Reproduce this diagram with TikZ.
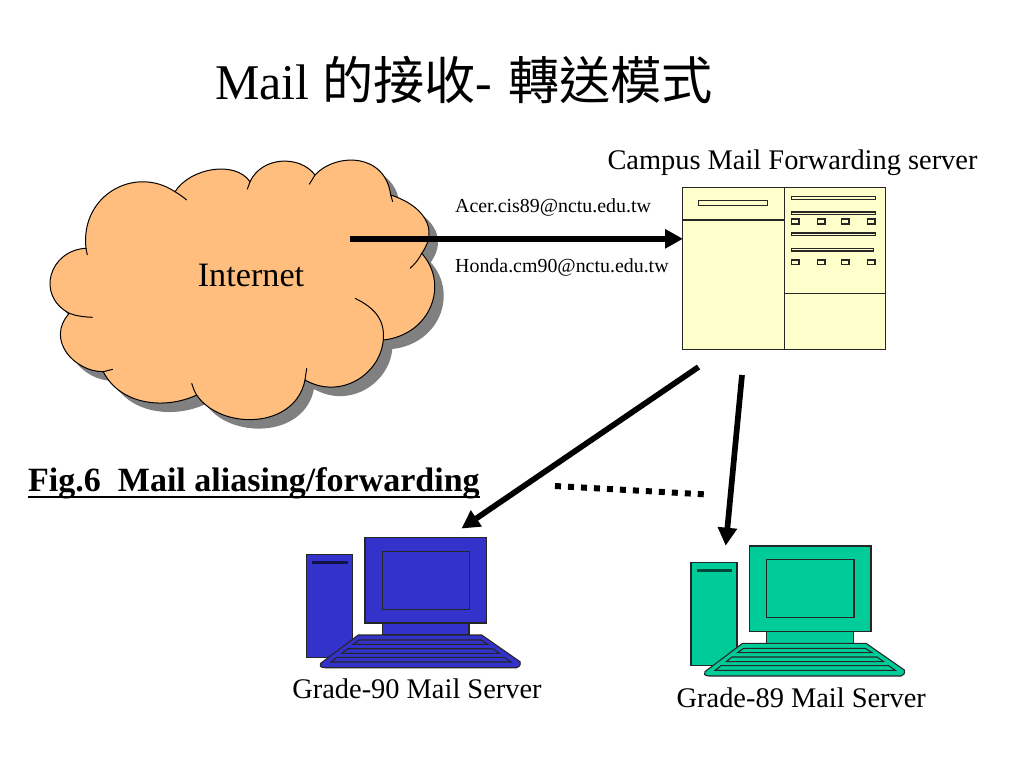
\documentclass[tikz,border=0pt]{standalone}
\usepackage{fontspec}
\setmainfont{Liberation Serif}
\newfontfamily\cjkfont{Noto Sans CJK TC}
\usetikzlibrary{arrows.meta}
\definecolor{cloudfill}{RGB}{255,190,125}
\definecolor{cloudshadow}{RGB}{128,128,128}
\definecolor{serverfill}{RGB}{255,255,204}
\definecolor{bluepc}{RGB}{51,51,204}
\definecolor{greenpc}{RGB}{0,204,153}
\newcommand{\cloudoutline}{(86,248.3) .. controls (80,195) and (135,165) .. (175,191.7)
	.. controls (190,168) and (235,160) .. (250,181.7)
	.. controls (262,156) and (300,155) .. (315,175)
	.. controls (335,153) and (385,152) .. (390.7,195)
	.. controls (422,205) and (440,228) .. (421.7,253.3)
	.. controls (450,285) and (430,335) .. (383.3,340)
	.. controls (380,375) and (340,400) .. (305,380)
	.. controls (295,430) and (220,430) .. (196.7,395)
	.. controls (165,410) and (120,405) .. (103.3,371.7)
	.. controls (75,372) and (45,340) .. (69.3,313.3)
	.. controls (35,295) and (50,250) .. (86,248.3) -- cycle}
\newcommand{\titlecjk}[1]{{\cjkfont\fontsize{51.2}{60}\selectfont #1}}
\tikzset{
	thinline/.style = {draw = black, line width = 1pt},
	serverline/.style = {draw = black!85, line width = 1.3pt},
	pcline/.style = {draw = black!85, line width = 1.1pt},
	thickarrow/.style = {line width = 5.7pt, -{Triangle[length = 18pt, width = 18.5pt]}},
	label20/.style = {font = \fontsize{28.4}{32}\selectfont},
	label24/.style = {font = \fontsize{34.2}{38}\selectfont},
	label14/.style = {font = \fontsize{19.9}{23}\selectfont, anchor = base west, inner sep = 0pt}
}
\begin{document}
\begin{tikzpicture}[x = 1pt, y = -1pt]
\useasboundingbox (0,0) rectangle (1024,768);
\node[anchor = base west, inner sep = 0pt, font = \fontsize{50}{60}\selectfont] (title) at (215,99) {Mail \titlecjk{的接收}-\hspace{16pt}\titlecjk{轉送模式}};
\fill[cloudshadow, shift = {(9,9)}] \cloudoutline;
\draw[thinline, fill = cloudfill] \cloudoutline;
\draw[thinline] (86,248.3) -- (87.3,255);
\draw[thinline] (175,191.7) .. controls (179,194) and (183,197) .. (186.7,200);
\draw[thinline] (250,181.7) -- (247.3,189.3);
\draw[thinline] (315,175) -- (309.3,184.3);
\draw[thinline] (390.7,195) -- (392.7,201.7);
\draw[thinline] (421.7,253.3) .. controls (419,259) and (415,264) .. (410,268.3);
\draw[thinline] (383.3,340) .. controls (385,320) and (375,308) .. (355,298.3);
\draw[thinline] (305,380) -- (306.7,368.3);
\draw[thinline] (196.7,395) .. controls (194,391) and (193,387) .. (191.7,383.3);
\draw[thinline] (103.3,371.7) -- (112.7,369.3);
\draw[thinline] (69.3,313.3) .. controls (76,316) and (84,317) .. (92.7,317.3);
\node[label24] (internet) at (251,275) {Internet};
\node[label20] (campus) at (792.5,163) {Campus Mail Forwarding server};
\node[label14] (acer) at (455,212) {Acer.cis89@nctu.edu.tw};
\node[label14] (honda) at (455,272) {Honda.cm90@nctu.edu.tw};
\draw[serverline, fill = serverfill] (682.3,187.7) rectangle (885.3,349.3);
\draw[serverline] (784.7,187.7) -- (784.7,349.3);
\draw[serverline] (682.3,220) -- (784.7,220);
\draw[serverline] (784.7,293.3) -- (885.3,293.3);
\draw[serverline] (698.3,200.3) rectangle (767.7,205.3);
\foreach \x / \y in {875.3/196.7,875.3/212,875.3/233,873.7/248.3}
{
	\draw[serverline] (791.7,\y) rectangle (\x,\y+2.6);
}
\foreach \x in {791.7,817.7,841.7,867.7}
{
	\draw[serverline] (\x,219) rectangle (\x+7.3,224);
	\draw[serverline] (\x,260) rectangle (\x+7.3,264.7);
}
\foreach \dx / \dy / \pccol / \grade in {0/0/bluepc/90,384.3/8.3/greenpc/89}
{
	\begin{scope}[shift = {(\dx,\dy)}]
	\draw[pcline, fill = \pccol] (306.7,554.3) rectangle (352.7,657.3);
	\fill[\pccol!35!black] (312.3,561) rectangle (347.7,563.7);
	\draw[pcline, fill = \pccol] (382.3,623) rectangle (469,635);
	\draw[pcline, fill = \pccol] (365,537.7) rectangle (486.7,623);
	\draw[pcline] (382.3,551.3) rectangle (469.7,609.3);
	\draw[pcline, fill = \pccol] (358.3,635) -- (481.7,635) -- (520,661.7) .. controls (521,665) and (519,667.7) .. (516.7,667.7) -- (325,667.7) .. controls (320,667.7) and (319,665) .. (320.7,663.3) -- cycle;
	\draw[pcline] (359.3,640) -- (481,640) -- (487.7,644.3) -- (353.3,644.3) -- cycle;
	\draw[pcline] (347.7,648.7) -- (492.7,648.7) -- (499.3,653.3) -- (342,653.3) -- cycle;
	\draw[pcline] (336.7,657.3) -- (504.3,657.3) -- (511,662) -- (331,662) -- cycle;
	\node[label20] (grade\grade) at (417,689) {Grade-\grade{} Mail Server};
	\end{scope}
}
\node[anchor = base west, inner sep = 0pt, font = \fontsize{34}{38}\selectfont\bfseries] (figcaption) at (28,491) {Fig.6\ \ Mail aliasing/forwarding};
\draw[line width = 1.6pt] ([yshift = -5.7pt]figcaption.base west) -- ([yshift = -5.7pt]figcaption.base east);
\coordinate (cloudport) at (350,238.8);
\coordinate (serverport) at (683,238.8);
\coordinate (serverleft) at (698.5,367);
\coordinate (pcblue) at (461.5,528.5);
\coordinate (serverright) at (742,375);
\coordinate (pcgreen) at (725.7,545.7);
\coordinate (dotsleft) at (555,486);
\coordinate (dotsright) at (704,494.3);
\draw[thickarrow] (cloudport) -- (serverport);
\draw[thickarrow] (serverleft) -- (pcblue);
\draw[thickarrow] (serverright) -- (pcgreen);
\draw[line width = 6pt, dash pattern = on 6pt off 7pt] (dotsleft) -- (dotsright);
\end{tikzpicture}
\end{document}
